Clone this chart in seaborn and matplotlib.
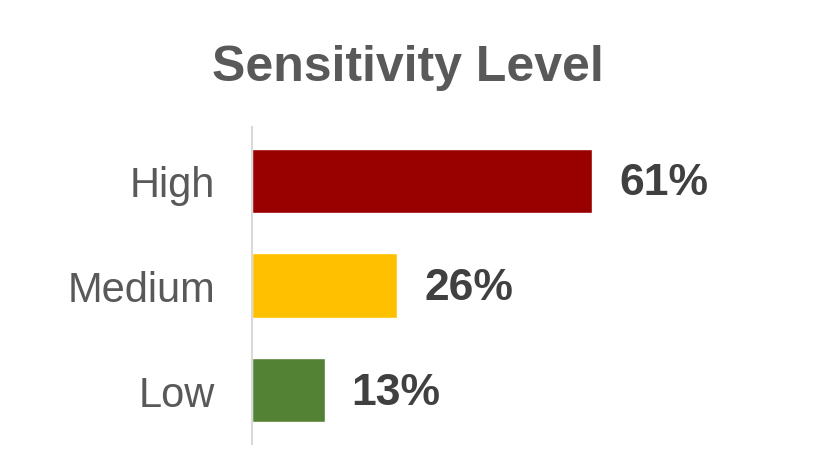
import matplotlib
matplotlib.use("Agg")
import matplotlib.pyplot as plt
import seaborn as sns
import pandas as pd

categories = ["High", "Medium", "Low"]
values = [61, 26, 13]
colors = ["#990000", "#FFC000", "#548235"]

df = pd.DataFrame({"level": categories, "pct": values})

sns.set_style("white")
plt.rcParams["font.family"] = ["Liberation Sans", "DejaVu Sans"]

fig = plt.figure(figsize=(8.15, 4.64), dpi=100)
ax = fig.add_axes([252/815, 1 - 445/464, 550/815, 317/464])

sns.barplot(data=df, y="level", x="pct", hue="level", palette=colors,
            order=categories, hue_order=categories, width=0.61,
            legend=False, ax=ax, saturation=1)

ax.set_xlim(0, 98.6)
ax.set_ylim(2.51, -0.51)
ax.set_xlabel("")
ax.set_ylabel("")
ax.set_xticks([])
for s in ["top", "right", "bottom"]:
    ax.spines[s].set_visible(False)
ax.spines["left"].set_color("#D9D9D9")
ax.spines["left"].set_linewidth(1.5)
ax.tick_params(axis="y", length=0, pad=26.5, labelsize=30, labelcolor="#595959")

for i, v in enumerate(values):
    ax.annotate(f"{v}%", (v, i), xytext=(19.5, -1.5), textcoords="offset points",
                ha="left", va="center", fontsize=32, fontweight="bold",
                color="#404040")

fig.text(408/815, 1 - 68/464, "Sensitivity Level", ha="center", va="center",
         fontsize=36, fontweight="bold", color="#595959")

fig.savefig("out.png", dpi=100)
